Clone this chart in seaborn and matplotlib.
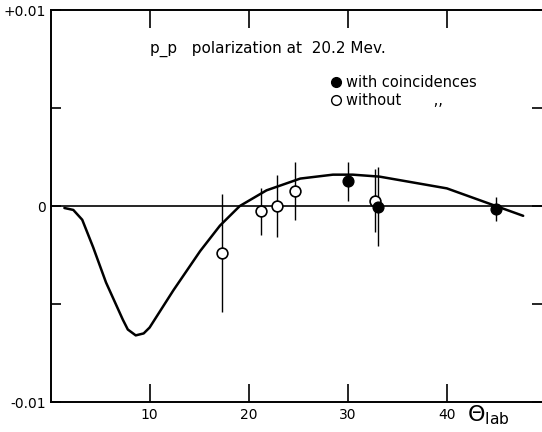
import matplotlib
matplotlib.use("Agg")
import matplotlib.pyplot as plt
from matplotlib.lines import Line2D
import pandas as pd
import seaborn as sns

# theoretical curve
curve_theta = [1.4, 2.3, 3.2, 4.3, 5.6, 7.3, 7.8, 8.6, 9.4, 10.0, 12.4, 15.1, 17.1, 19.1,
               21.8, 25.2, 28.5, 30.5, 33.2, 36.6, 40.0, 43.3, 47.7]
curve_pol = [-0.0001, -0.0002, -0.0007, -0.0021, -0.0039, -0.0058, -0.0063, -0.0066, -0.0065,
             -0.0062, -0.0043, -0.0023, -0.0010, 0.0000, 0.0008, 0.0014, 0.0016, 0.0016,
             0.0015, 0.0012, 0.0009, 0.0003, -0.0005]

# measurements with coincidences
with_theta = [30.0, 33.0, 45.0]
with_pol = [0.00126, -0.00003, -0.00015]
with_err = [0.0010, 0.0020, 0.0006]

# measurements without coincidences
without_theta = [17.3, 21.2, 22.9, 24.7, 32.7]
without_pol = [-0.0024, -0.00026, 0.0, 0.00077, 0.00027]
without_err = [0.0030, 0.0012, 0.0016, 0.0015, 0.0016]

x_ticks = [10, 20, 30, 40]
y_ticks = [-0.01, -0.005, 0, 0.005, 0.01]
y_labels = ["-0.01", "", "0", "", "+0.01"]

sns.set_style("white")
plt.rcParams['font.family'] = ['DejaVu Sans']
plt.rcParams['text.color'] = 'black'
plt.rcParams['xtick.color'] = 'black'
plt.rcParams['ytick.color'] = 'black'

fig = plt.figure(figsize=(5.42, 4.32), dpi=100)
ax = fig.add_axes([0.0932, 0.0694, 1 - 0.0932, 0.9074])

ax.axhline(0, color='black', lw=1.2, zorder=1)

curve_df = pd.DataFrame({'theta': curve_theta, 'pol': curve_pol})
sns.lineplot(data=curve_df, x='theta', y='pol', sort=False, color='black', lw=1.8, ax=ax, zorder=2)

ax.errorbar(without_theta, without_pol, yerr=without_err, fmt='none', ecolor='black',
            elinewidth=1.0, capsize=0, zorder=3)
ax.errorbar(with_theta, with_pol, yerr=with_err, fmt='none', ecolor='black',
            elinewidth=1.0, capsize=0, zorder=3)

sns.scatterplot(x=without_theta, y=without_pol, marker='o', s=60, facecolor='white',
                edgecolor='black', linewidth=1.2, ax=ax, zorder=4)
sns.scatterplot(x=with_theta, y=with_pol, marker='o', s=60, color='black',
                edgecolor='black', linewidth=1.0, ax=ax, zorder=4)

ax.set_xlim(0, 49.6)
ax.set_ylim(-0.01, 0.01)
ax.set_xlabel('')
ax.set_ylabel('')

ax.set_xticks(x_ticks)
ax.set_xticklabels([str(t) for t in x_ticks], fontsize=10, color='black')
ax.set_yticks(y_ticks)
ax.set_yticklabels(y_labels, fontsize=10, color='black')
ax.tick_params(axis='x', which='both', direction='in', length=13, width=1.2,
               top=True, bottom=True, pad=4, colors='black')
ax.tick_params(axis='y', which='both', direction='in', length=7, width=1.2,
               left=True, right=True, pad=3, colors='black')

for side in ['left', 'top', 'bottom']:
    ax.spines[side].set_color('black')
    ax.spines[side].set_linewidth(1.4)
ax.spines['right'].set_visible(False)

ax.text(10.0, 0.0080, 'p_p   polarization at  20.2 Mev.', fontsize=11, ha='left', va='center',
        color='black')

handles = [
    Line2D([], [], marker='o', color='black', markerfacecolor='black', linestyle='none', markersize=7),
    Line2D([], [], marker='o', color='black', markerfacecolor='white', linestyle='none', markersize=7),
]
leg = ax.legend(handles, ['with coincidences', 'without       ,,'], loc='upper left',
                bbox_to_anchor=(0.56, 0.85), frameon=False, fontsize=10.5, handlelength=0.6,
                handletextpad=0.4, labelspacing=0.25, borderaxespad=0)
for t in leg.get_texts():
    t.set_color('black')

ax.text(0.847, -0.033, r'$\Theta_{\mathrm{lab}}$', transform=ax.transAxes, fontsize=16,
        ha='left', va='center', color='black')

fig.savefig('out.png', dpi=100)
